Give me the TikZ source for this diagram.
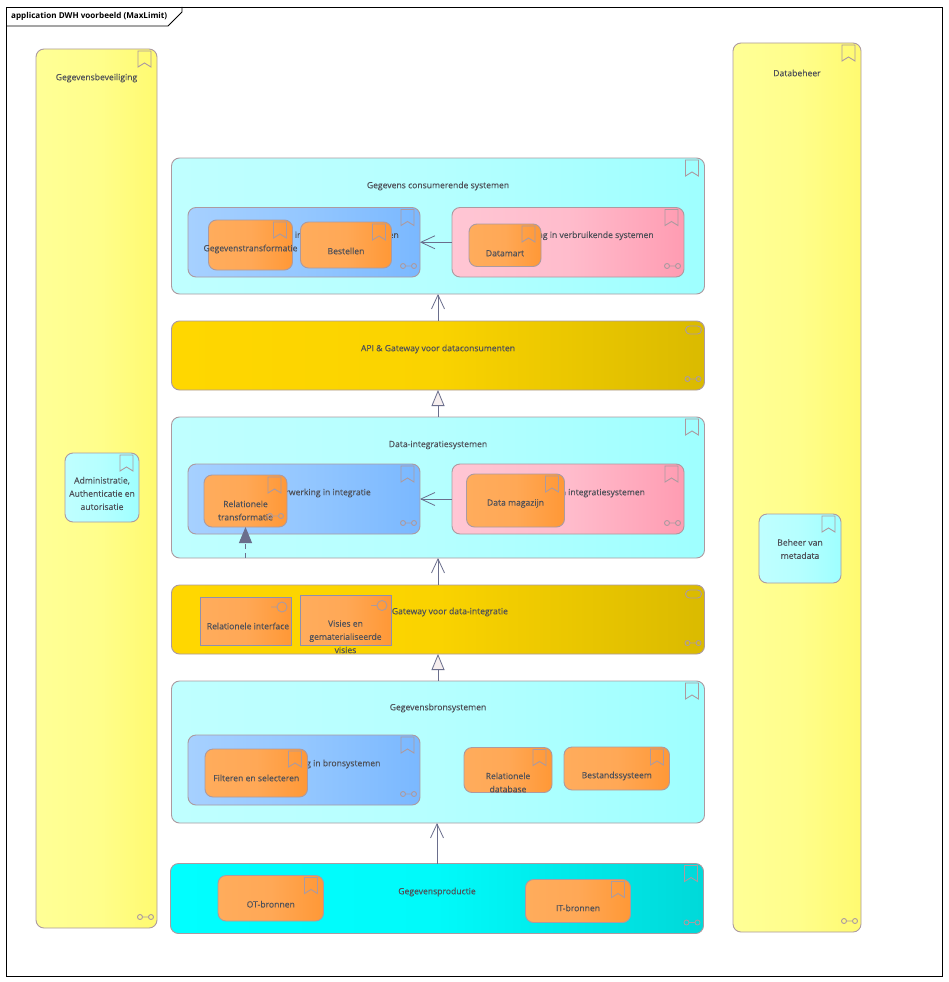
\documentclass[tikz,border=0pt]{standalone}
\usepackage{fontspec}
\setmainfont{Open Sans}
\usetikzlibrary{arrows.meta, positioning}
\definecolor{lijnGrijs}{HTML}{AC9AA0}
\definecolor{blokLijn}{HTML}{9090AC}
\definecolor{pijlGrijs}{HTML}{6A6E8C}
\definecolor{tekstGrijs}{HTML}{4E5058}
\definecolor{punt}{HTML}{F6EEEE}
\tikzset{
  kaderBasis/.style={
    draw=lijnGrijs, line width=0.9pt, rounded corners=8pt,
    outer sep=0pt, inner sep=0pt, shading=axis, shading angle=90
  },
  kaderGeel/.style={kaderBasis, left color={rgb,255:red,255;green,255;blue,150}, right color={rgb,255:red,255;green,250;blue,112}, middle color={rgb,255:red,255;green,254;blue,140}},
  kaderCyaan/.style={kaderBasis, left color=cyan!25, right color=cyan!38, middle color=cyan!29},
  kaderBlauw/.style={kaderBasis, left color={rgb,255:red,166;green,208;blue,255}, right color={rgb,255:red,122;green,184;blue,255}, middle color={rgb,255:red,148;green,199;blue,255}},
  kaderRoze/.style={kaderBasis, left color={rgb,255:red,255;green,198;blue,212}, right color={rgb,255:red,255;green,156;blue,178}, middle color={rgb,255:red,255;green,188;blue,204}},
  kaderOranje/.style={kaderBasis, left color={rgb,255:red,255;green,172;blue,92}, right color={rgb,255:red,255;green,152;blue,54}, middle color={rgb,255:red,255;green,168;blue,86}},
  kaderGoud/.style={kaderBasis, left color={rgb,255:red,255;green,215;blue,0}, right color={rgb,255:red,218;green,186;blue,0}, middle color={rgb,255:red,250;green,211;blue,0}},
  kaderBron/.style={kaderBasis, left color=cyan, right color=cyan!85!black, middle color=cyan!98!black},
  blokOranje/.style={kaderOranje, rounded corners=0pt, draw=blokLijn},
  elemTekst/.style={font=\fontsize{8.6}{13.2}\selectfont\addfontfeature{FakeBold=0.2}, text=tekstGrijs, align=center, anchor=center, inner sep=0pt, yshift=-1pt},
  pijlOpen/.style={draw=pijlGrijs, line width=0.8pt, -{Straight Barb[length=14pt,width=13pt]}},
  pijlDriehoek/.style={draw=pijlGrijs, line width=0.8pt, -{Triangle[open,length=16pt,width=13pt,fill=punt]}},
  pijlGestippeld/.style={draw=pijlGrijs, line width=0.9pt, dash pattern=on 5pt off 4pt, -{Triangle[length=16pt,width=13pt]}},
  bladwijzer/.pic={
    \draw[lijnGrijs, line width=0.9pt] (-6.5,-8) -- (6.5,-8) -- (6.5,8) -- (0,4) -- (-6.5,8) -- cycle;
  },
  schakel/.pic={
    \draw[lijnGrijs, line width=0.9pt] (-3,0) -- (3,0) (-5.5,0) circle (2.5) (5.5,0) circle (2.5);
  },
  ovaalteken/.pic={
    \draw[lijnGrijs, line width=0.9pt, rounded corners=4pt] (-8,-4) rectangle (8,4);
  },
  koppelteken/.pic={
    \draw[lijnGrijs, line width=0.9pt] (-11,0) -- (-5,0) (0,0) circle (5);
  },
}
\begin{document}
\begin{tikzpicture}[x=1pt, y=-1pt]
  \useasboundingbox[fill=white] (0,0) rectangle (948,982);
  % kader en titel
  \node[draw=black, line width=0.8pt, minimum width=936pt, minimum height=969pt, outer sep=0pt] (diagram) at (474,491.5) {};
  \node[anchor=west, inner sep=0pt, font=\fontsize{8.1}{10}\selectfont\bfseries] (titel) at (11,16) {application DWH voorbeeld (MaxLimit)};
  \draw[black, line width=0.8pt] (diagram.north west) ++(0,19) -- ++(162,0) -- ++(14,-14) -- ++(0,-5);

  % zijkolommen
  \node[kaderGeel, minimum width=121pt, minimum height=879pt, label={[elemTekst, yshift=411.5pt]center:Gegevensbeveiliging}] (beveiliging) at (96.5,488.5) {};
  \node[kaderGeel, minimum width=128pt, minimum height=889pt, label={[elemTekst, yshift=415.5pt]center:Databeheer}] (databeheer) at (797,487.5) {};
  \node[kaderCyaan, minimum width=74pt, minimum height=69pt, label={[elemTekst, yshift=-5pt]center:Administratie,\\Authenticatie en\\autorisatie}] (administratie) at (102,487.5) {};
  \node[kaderCyaan, minimum width=82pt, minimum height=69pt, label={[elemTekst, yshift=0.5pt]center:Beheer van\\metadata}] (metadata) at (800,548.5) {};

  % consumerende systemen
  \node[kaderCyaan, minimum width=533pt, minimum height=136pt, label={[elemTekst, yshift=41pt]center:Gegevens consumerende systemen}] (consumenten) at (438,226) {};
  \node[kaderBlauw, minimum width=232pt, minimum height=69.5pt, label={[elemTekst, yshift=7.5pt]center:Gegevensverwerking in verbruikende systemen}] (verwerking1) at (304,242.25) {};
  \node[kaderRoze, minimum width=232pt, minimum height=69.5pt, label={[elemTekst, yshift=7.5pt]center:Gegevensopslag in verbruikende systemen}] (opslag1) at (568,242.25) {};
  \node[kaderOranje, minimum width=84pt, minimum height=50pt, label={[elemTekst, yshift=-3pt]center:Gegevenstransformatie}] (transformatie) at (250.5,245) {};
  \node[kaderOranje, minimum width=91pt, minimum height=46pt, label={[elemTekst, yshift=-5pt]center:Bestellen}] (bestellen) at (346,245) {};
  \node[kaderOranje, minimum width=72pt, minimum height=42.5pt, label={[elemTekst, yshift=-7pt]center:Datamart}] (datamart) at (505,245.25) {};

  % gateway consumenten
  \node[kaderGoud, minimum width=533pt, minimum height=69pt, label={[elemTekst, yshift=7.5pt]center:API \& Gateway voor dataconsumenten}] (gatewayApi) at (438,355.5) {};

  % integratie
  \node[kaderCyaan, minimum width=533pt, minimum height=141pt, label={[elemTekst, yshift=43.5pt]center:Data-integratiesystemen}] (integratie) at (438,487.5) {};
  \node[kaderBlauw, minimum width=232pt, minimum height=70pt, label={[elemTekst, yshift=7pt]center:Gegevensverwerking in integratie}] (verwerking2) at (304,499) {};
  \node[kaderRoze, minimum width=232pt, minimum height=70pt, label={[elemTekst, yshift=7pt]center:Gegevensopslag in integratiesystemen}] (opslag2) at (568,499) {};
  \node[kaderOranje, minimum width=83pt, minimum height=52pt, label={[elemTekst, yshift=-8.5pt]center:Relationele\\transformatie}] (relTransformatie) at (245.5,501) {};
  \node[kaderOranje, minimum width=98pt, minimum height=53pt, label={[elemTekst, yshift=-2pt]center:Data magazijn}] (magazijn) at (515.5,500.5) {};

  % gateway integratie
  \node[kaderGoud, minimum width=533pt, minimum height=69pt, label={[elemTekst, yshift=8.5pt]center:API \& Gateway voor data-integratie}] (gatewayData) at (438,619.5) {};
  \node[blokOranje, minimum width=91pt, minimum height=48pt, label={[elemTekst, xshift=2.5pt, yshift=-4pt]center:Relationele interface}] (relInterface) at (245.5,621) {};
  \node[blokOranje, minimum width=91pt, minimum height=49.5pt, label={[elemTekst, yshift=-15.5pt]center:Visies en\\gematerialiseerde\\visies}] (visies) at (345.5,620.25) {};

  % bronsystemen
  \node[kaderCyaan, minimum width=533pt, minimum height=142pt, label={[elemTekst, yshift=45pt]center:Gegevensbronsystemen}] (bronsystemen) at (438,752) {};
  \node[kaderBlauw, minimum width=232pt, minimum height=70pt, label={[elemTekst, yshift=7pt]center:Gegevensverwerking in bronsystemen}] (verwerking3) at (304,770) {};
  \node[kaderOranje, minimum width=102.5pt, minimum height=48pt, label={[elemTekst, yshift=-4pt]center:Filteren en selecteren}] (filteren) at (256.25,773) {};
  \node[kaderOranje, minimum width=88pt, minimum height=45pt, label={[elemTekst, yshift=-11.5pt]center:Relationele\\database}] (database) at (508,770) {};
  \node[kaderOranje, minimum width=105.5pt, minimum height=43pt, label={[elemTekst, yshift=-6.5pt]center:Bestandssysteem}] (bestanden) at (616.75,768.5) {};

  % productie
  \node[kaderBron, minimum width=533pt, minimum height=70pt, label={[elemTekst, yshift=7.5pt]center:Gegevensproductie}] (productie) at (437,898.5) {};
  \node[kaderOranje, minimum width=105.5pt, minimum height=45.5pt, label={[elemTekst, yshift=-5pt]center:OT-bronnen}] (otBronnen) at (270.75,898.25) {};
  \node[kaderOranje, minimum width=105pt, minimum height=43pt, label={[elemTekst, yshift=-6pt]center:IT-bronnen}] (itBronnen) at (578,901) {};

  % tekens
  \foreach \knoop in {beveiliging, databeheer, administratie, metadata, consumenten, verwerking1, opslag1,
      transformatie, bestellen, datamart, integratie, verwerking2, opslag2, relTransformatie, magazijn,
      bronsystemen, verwerking3, filteren, database, bestanden, productie, otBronnen, itBronnen}
    \pic at ([shift={(-12.5,10)}]\knoop.north east) {bladwijzer};
  \foreach \knoop in {beveiliging, databeheer, verwerking1, opslag1, gatewayApi, verwerking2, opslag2,
      relTransformatie, gatewayData, verwerking3, productie}
    \pic at ([shift={(-11.5,-11)}]\knoop.south east) {schakel};
  \foreach \knoop in {gatewayApi, gatewayData}
    \pic at ([shift={(-11,9)}]\knoop.north east) {ovaalteken};
  \foreach \knoop in {relInterface, visies}
    \pic at ([shift={(-9,10)}]\knoop.north east) {koppelteken};

  % verbindingen
  \draw[pijlOpen] (opslag1.west) -- (verwerking1.east);
  \draw[pijlOpen] (opslag2.west) -- (verwerking2.east);
  \draw[pijlOpen] (gatewayApi.north) -- (consumenten.south);
  \draw[pijlOpen] (gatewayData.north) -- (integratie.south);
  \draw[pijlOpen] (productie.north) -- (productie.north |- bronsystemen.south);
  \draw[pijlDriehoek] (integratie.north) -- (gatewayApi.south);
  \draw[pijlDriehoek] (bronsystemen.north) -- (gatewayData.south);
  \draw[pijlGestippeld] (relTransformatie.south |- integratie.south) -- (relTransformatie.south);
\end{tikzpicture}
\end{document}
